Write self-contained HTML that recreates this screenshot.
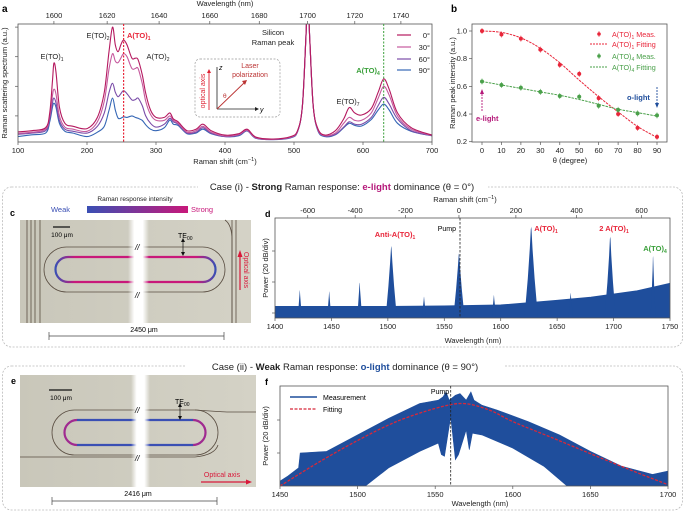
<!DOCTYPE html>
<html><head><meta charset="utf-8"><style>
body{margin:0;background:#fff;}
svg{display:block;font-family:"Liberation Sans",sans-serif;}
.t{font-size:7.5px;fill:#222}
</style></head><body>
<svg id="fig" width="685" height="513" viewBox="0 0 685 513" xmlns="http://www.w3.org/2000/svg">
<defs>
<linearGradient id="cbar" x1="0" x2="1" y1="0" y2="0"><stop offset="0" stop-color="#3a4fb4"/><stop offset="1" stop-color="#c8187a"/></linearGradient>
<linearGradient id="bgimg" x1="0" x2="1"><stop offset="0" stop-color="#c9c7ba"/><stop offset="1" stop-color="#d4d2c6"/></linearGradient>
<linearGradient id="gapg" x1="0" x2="1"><stop offset="0" stop-color="#fff" stop-opacity="0"/><stop offset=".3" stop-color="#fff"/><stop offset=".7" stop-color="#fff"/><stop offset="1" stop-color="#fff" stop-opacity="0"/></linearGradient>
<linearGradient id="endL" x1="0" x2="1"><stop offset="0" stop-color="#3a4fb4"/><stop offset="1" stop-color="#c8187a"/></linearGradient>
<linearGradient id="endR" x1="0" x2="1"><stop offset="0" stop-color="#c8187a"/><stop offset="1" stop-color="#3a4fb4"/></linearGradient>
<clipPath id="clipA"><rect x="18" y="24" width="414" height="118"/></clipPath>
<clipPath id="clipD"><rect x="275" y="218" width="395" height="100"/></clipPath>
<clipPath id="clipF"><rect x="280" y="386" width="388" height="100"/></clipPath>
</defs>

<g>
<text x="2" y="12" font-size="10" font-weight="bold">a</text>
<text x="225" y="6" class="t" text-anchor="middle">Wavelength (nm)</text>
<text x="225" y="164" class="t" text-anchor="middle">Raman shift (cm<tspan dy="-3" font-size="5.5">−1</tspan><tspan dy="3">)</tspan></text>
<text transform="translate(7,83) rotate(-90)" class="t" text-anchor="middle">Raman scattering spectrum (a.u.)</text>
<g id="aTicks"></g>
<g id="aCurves" clip-path="url(#clipA)"></g>
<rect x="18" y="24" width="414" height="118" fill="none" stroke="#555" stroke-width="0.8"/>
<line x1="123.6" y1="24" x2="123.6" y2="142" stroke="#e8263a" stroke-width="1.2" stroke-dasharray="2,1.5"/>
<line x1="383.7" y1="24" x2="383.7" y2="142" stroke="#3aa03a" stroke-width="1" stroke-dasharray="2,1.5"/>
<text x="52" y="59" class="t" text-anchor="middle">E(TO)<tspan font-size="5" dy="2">1</tspan></text>
<text x="98" y="38" class="t" text-anchor="middle">E(TO)<tspan font-size="5" dy="2">2</tspan></text>
<text x="127" y="38" font-size="7.5" font-weight="bold" fill="#e8263a">A(TO)<tspan font-size="5" dy="2">1</tspan></text>
<text x="158" y="59" class="t" text-anchor="middle">A(TO)<tspan font-size="5" dy="2">2</tspan></text>
<text x="273" y="35" class="t" text-anchor="middle">Silicon</text>
<text x="273" y="45" class="t" text-anchor="middle">Raman peak</text>
<text x="368" y="73" font-size="7.5" font-weight="bold" fill="#3aa03a" text-anchor="middle">A(TO)<tspan font-size="5" dy="2">4</tspan></text>
<text x="348" y="104" class="t" text-anchor="middle">E(TO)<tspan font-size="5" dy="2">7</tspan></text>
<g>
<line x1="397" y1="35" x2="411" y2="35" stroke="#b5195f" stroke-width="1.2"/><text x="430" y="38" class="t" text-anchor="end">0°</text>
<line x1="397" y1="47" x2="411" y2="47" stroke="#c65a9e" stroke-width="1.2"/><text x="430" y="50" class="t" text-anchor="end">30°</text>
<line x1="397" y1="59" x2="411" y2="59" stroke="#7a4ca8" stroke-width="1.2"/><text x="430" y="62" class="t" text-anchor="end">60°</text>
<line x1="397" y1="70" x2="411" y2="70" stroke="#3566b5" stroke-width="1.2"/><text x="430" y="73" class="t" text-anchor="end">90°</text>
</g>
<g>
<rect x="195" y="59" width="85" height="58" rx="5" fill="#fff" stroke="#999" stroke-width="0.7" stroke-dasharray="2,1.5"/>
<line x1="209" y1="110" x2="209" y2="72" stroke="#d23" stroke-width="0.9"/><path d="M207,73 L209,69 L211,73Z" fill="#d23"/>
<text transform="translate(205,91) rotate(-90)" font-size="7" fill="#d23" text-anchor="middle">optical axis</text>
<line x1="217" y1="109" x2="217" y2="67" stroke="#222" stroke-width="0.8"/><line x1="217" y1="109" x2="257" y2="109" stroke="#222" stroke-width="0.8"/>
<path d="M255,107 L259,109 L255,111Z" fill="#222"/>
<text x="219" y="70" font-size="7" font-style="italic">z</text><text x="260" y="112" font-size="7" font-style="italic">y</text>
<line x1="217" y1="109" x2="245" y2="82" stroke="#b33" stroke-width="0.9"/><path d="M242,81 L247,80 L245,85Z" fill="#b33"/>
<text x="223" y="98" font-size="6.5" fill="#b33">θ</text>
<text x="250" y="68" font-size="7" fill="#b33" text-anchor="middle">Laser</text>
<text x="250" y="77" font-size="7" fill="#b33" text-anchor="middle">polarization</text>
</g>
</g>

<g>
<text x="451" y="12" font-size="10" font-weight="bold">b</text>
<text transform="translate(455,83) rotate(-90)" class="t" text-anchor="middle">Raman peak intensity (a.u.)</text>
<text x="570" y="163" class="t" text-anchor="middle">θ (degree)</text>
<g id="bTicks"></g>
<g id="bMarks"></g>
<rect x="472" y="24" width="195" height="118" fill="none" stroke="#555" stroke-width="0.8"/>
<g font-size="7.2">
<circle cx="599" cy="34" r="1.8" fill="#e8263a"/><line x1="599" y1="31" x2="599" y2="37" stroke="#e8263a" stroke-width="0.6"/><text x="612" y="37" fill="#e8263a">A(TO)<tspan font-size="5" dy="2">1</tspan><tspan dy="-2"> Meas.</tspan></text>
<line x1="590" y1="44" x2="608" y2="44" stroke="#e8263a" stroke-width="1" stroke-dasharray="2,1"/><text x="612" y="47" fill="#e8263a">A(TO)<tspan font-size="5" dy="2">1</tspan><tspan dy="-2"> Fitting</tspan></text>
<circle cx="599" cy="56" r="1.8" fill="#4aa04a"/><line x1="599" y1="53" x2="599" y2="59" stroke="#4aa04a" stroke-width="0.6"/><text x="612" y="59" fill="#4aa04a">A(TO)<tspan font-size="5" dy="2">4</tspan><tspan dy="-2"> Meas.</tspan></text>
<line x1="590" y1="67" x2="608" y2="67" stroke="#4aa04a" stroke-width="1" stroke-dasharray="2,1"/><text x="612" y="70" fill="#4aa04a">A(TO)<tspan font-size="5" dy="2">4</tspan><tspan dy="-2"> Fitting</tspan></text>
</g>
<g>
<line x1="482" y1="111" x2="482" y2="93" stroke="#b5197a" stroke-width="0.9" stroke-dasharray="2,1"/><path d="M480,94 L482,89 L484,94Z" fill="#b5197a"/>
<text x="476" y="121" font-size="7.5" font-weight="bold" fill="#b5197a">e-light</text></g>
<g>
<line x1="657" y1="87" x2="657" y2="104" stroke="#1f4e9c" stroke-width="0.9" stroke-dasharray="2,1"/><path d="M655,103 L657,108 L659,103Z" fill="#1f4e9c"/>
<text x="627" y="100" font-size="7.5" font-weight="bold" fill="#1f4e9c">o-light</text></g>
</g>

<rect x="2.5" y="187" width="680" height="160" rx="9" fill="none" stroke="#bbb" stroke-width="0.8" stroke-dasharray="2,1.5"/>
<rect x="198" y="180" width="290" height="12" fill="#fff"/>
<text x="342" y="190" font-size="9.5" text-anchor="middle" fill="#222">Case (i) - <tspan font-weight="bold">Strong</tspan> Raman response: <tspan font-weight="bold" fill="#b5197a">e-light</tspan> dominance (θ = 0°)</text>

<g>
<text x="10" y="216" font-size="9" font-weight="bold">c</text>
<text x="135" y="201" font-size="6.5" text-anchor="middle" fill="#222">Raman response intensity</text>
<text x="70" y="212" font-size="7.5" text-anchor="end" fill="#3a4fb4">Weak</text>
<rect x="87" y="206" width="101" height="7" fill="url(#cbar)"/>
<text x="191" y="212" font-size="7.5" fill="#c8187a">Strong</text>
<g>
<rect x="20" y="220" width="231" height="103" fill="url(#bgimg)"/>
<g stroke="#5a4e42" stroke-width="0.8" fill="none">
<line x1="27" y1="220" x2="27" y2="323"/><line x1="31" y1="220" x2="31" y2="323"/><line x1="35" y1="220" x2="35" y2="323"/><line x1="40" y1="220" x2="40" y2="323"/>
<line x1="232" y1="220" x2="232" y2="323"/><line x1="236" y1="220" x2="236" y2="323"/>
<path d="M225,220 Q232,225 232,240 L232,323"/>
<rect x="44" y="247" width="181" height="45" rx="22.5"/>
</g>
<path d="M75,257 L196,257" stroke="#c8187a" stroke-width="2.2"/><path d="M75,282 L196,282" stroke="#c8187a" stroke-width="2.2"/>
<path d="M75,257 L68,257 A12.5,12.5 0 0 0 68,282 L75,282" fill="none" stroke="url(#endL)" stroke-width="2.2"/>
<path d="M196,257 L203,257 A12.5,12.5 0 0 1 203,282 L196,282" fill="none" stroke="url(#endR)" stroke-width="2.2"/>
<rect x="128" y="220" width="21" height="103" fill="url(#gapg)"/>
<text x="135" y="250" font-size="8" font-style="italic">//</text><text x="135" y="298" font-size="8" font-style="italic">//</text>
<line x1="53" y1="227" x2="70" y2="227" stroke="#111" stroke-width="1.2"/>
<text x="62" y="237" font-size="6.5" text-anchor="middle">100 μm</text>
<text x="178" y="238" font-size="7">TE<tspan font-size="5" dy="2">00</tspan></text>
<line x1="183" y1="240" x2="183" y2="254" stroke="#111" stroke-width="0.7"/><path d="M181,242 L183,238 L185,242Z M181,252 L183,256 L185,252Z" fill="#111"/>
<line x1="240" y1="290" x2="240" y2="255" stroke="#d8193a" stroke-width="1.2"/><path d="M237.5,257 L240,250 L242.5,257Z" fill="#d8193a"/>
<text transform="translate(244,270) rotate(90)" font-size="7" fill="#d8193a" text-anchor="middle">Optical axis</text>
</g>
<g>
<line x1="49" y1="336" x2="224" y2="336" stroke="#444" stroke-width="0.7"/><line x1="49" y1="332" x2="49" y2="340" stroke="#444" stroke-width="0.7"/><line x1="224" y1="332" x2="224" y2="340" stroke="#444" stroke-width="0.7"/>
<text x="144" y="332" font-size="7" text-anchor="middle">2450 μm</text></g>
</g>

<g>
<text x="265" y="217" font-size="9" font-weight="bold">d</text>
<text x="465" y="202" class="t" text-anchor="middle">Raman shift (cm<tspan dy="-3" font-size="5.5">−1</tspan><tspan dy="3">)</tspan></text>
<text x="473" y="343" class="t" text-anchor="middle">Wavelength (nm)</text>
<text transform="translate(268,268) rotate(-90)" class="t" text-anchor="middle">Power (20 dB/div)</text>
<g id="dTicks"></g>
<g id="dMarks" clip-path="url(#clipD)"></g>
<rect x="275" y="218" width="395" height="100" fill="none" stroke="#555" stroke-width="0.8"/>
<line x1="460" y1="218" x2="460" y2="318" stroke="#222" stroke-width="0.8" stroke-dasharray="2.5,1.5"/>
<text x="395" y="237" font-size="7.5" font-weight="bold" fill="#e8263a" text-anchor="middle">Anti-A(TO)<tspan font-size="5" dy="2">1</tspan></text>
<text x="456" y="231" font-size="7" text-anchor="end">Pump</text>
<text x="546" y="231" font-size="7.5" font-weight="bold" fill="#e8263a" text-anchor="middle">A(TO)<tspan font-size="5" dy="2">1</tspan></text>
<text x="614" y="231" font-size="7.5" font-weight="bold" fill="#e8263a" text-anchor="middle">2 A(TO)<tspan font-size="5" dy="2">1</tspan></text>
<text x="655" y="251" font-size="7.5" font-weight="bold" fill="#3aa03a" text-anchor="middle">A(TO)<tspan font-size="5" dy="2">4</tspan></text>
</g>

<rect x="2.5" y="366" width="680" height="144" rx="9" fill="none" stroke="#bbb" stroke-width="0.8" stroke-dasharray="2,1.5"/>
<rect x="185" y="359" width="320" height="13" fill="#fff"/>
<text x="345" y="370" font-size="9.5" text-anchor="middle" fill="#222">Case (ii) - <tspan font-weight="bold">Weak</tspan> Raman response: <tspan font-weight="bold" fill="#1f4e9c">o-light</tspan> dominance (θ = 90°)</text>

<g>
<text x="11" y="384" font-size="9" font-weight="bold">e</text>
<g>
<rect x="20" y="375" width="236" height="112" fill="url(#bgimg)"/>
<g stroke="#5a4e42" stroke-width="0.8" fill="none">
<rect x="52" y="410" width="166" height="45" rx="22.5"/>
<path d="M195,410 Q225,412 228,412 L256,412"/>
<path d="M20,457 L195,457 Q215,455 218,445"/>
</g>
<path d="M77,420 L193,420 M77,445 L193,445" stroke="#3a4fb4" stroke-width="2.2"/>
<path d="M77,420 A12.5,12.5 0 0 0 77,445" fill="none" stroke="#a02a90" stroke-width="2.2"/>
<path d="M193,420 A12.5,12.5 0 0 1 193,445" fill="none" stroke="#a02a90" stroke-width="2.2"/>
<rect x="131" y="375" width="19" height="112" fill="url(#gapg)"/>
<text x="135" y="413" font-size="8" font-style="italic">//</text><text x="135" y="461" font-size="8" font-style="italic">//</text>
<line x1="49" y1="390" x2="72" y2="390" stroke="#111" stroke-width="1.2"/>
<text x="61" y="400" font-size="6.5" text-anchor="middle">100 μm</text>
<text x="175" y="404" font-size="7">TE<tspan font-size="5" dy="2">00</tspan></text>
<line x1="180" y1="405" x2="180" y2="418" stroke="#111" stroke-width="0.7"/><path d="M178,407 L180,403 L182,407Z M178,416 L180,420 L182,416Z" fill="#111"/>
<text x="222" y="477" font-size="7" fill="#d8193a" text-anchor="middle">Optical axis</text>
<line x1="201" y1="482" x2="248" y2="482" stroke="#d8193a" stroke-width="1.2"/><path d="M246,479.5 L252,482 L246,484.5Z" fill="#d8193a"/>
</g>
<g>
<line x1="52" y1="501" x2="217" y2="501" stroke="#444" stroke-width="0.7"/><line x1="52" y1="497" x2="52" y2="505" stroke="#444" stroke-width="0.7"/><line x1="217" y1="497" x2="217" y2="505" stroke="#444" stroke-width="0.7"/>
<text x="138" y="496" font-size="7" text-anchor="middle">2416 μm</text></g>
</g>

<g>
<text x="265" y="385" font-size="9" font-weight="bold">f</text>
<text x="480" y="506" class="t" text-anchor="middle">Wavelength (nm)</text>
<text transform="translate(268,436) rotate(-90)" class="t" text-anchor="middle">Power (20 dB/div)</text>
<g id="fTicks"></g>
<g id="fMarks" clip-path="url(#clipF)"></g>
<rect x="280" y="386" width="388" height="100" fill="none" stroke="#555" stroke-width="0.8"/>
<line x1="450.7" y1="386" x2="450.7" y2="486" stroke="#222" stroke-width="0.8" stroke-dasharray="2.5,1.5"/>
<text x="440" y="394" font-size="7" text-anchor="middle">Pump</text>
<g>
<line x1="290" y1="397" x2="317" y2="397" stroke="#1f4e9c" stroke-width="1.6"/><text x="323" y="400" font-size="7">Measurement</text>
<line x1="290" y1="409" x2="317" y2="409" stroke="#d8283a" stroke-width="1.3" stroke-dasharray="3,1.5"/><text x="323" y="412" font-size="7">Fitting</text>
</g>
</g>
</svg>
<script>
const aShift=[100,120,140,146,150,152,155,160,168,180,200,215,225,232,237,241,245,249,253,258,265,270,274,280,285,292,300,312,320,325,332,345,358,368,380,400,420,432,445,470,495,505,512,517,520,523,528,535,545,560,572,580,588,598,612,622,630,638,650,670,700];
const aV0=[0.46,0.5,0.6,1.1,2.2,2.78,2.5,1.3,0.75,0.65,0.57,0.95,1.8,3.2,4.0,3.4,3.17,3.4,3.56,3.4,2.95,2.95,2.9,2.4,1.77,1.2,0.95,0.95,1.1,0.9,0.8,0.5,0.55,0.72,0.5,0.35,0.4,0.55,0.28,0.22,0.3,0.5,1.3,3.5,5,3.5,1.3,0.55,0.35,0.5,0.9,1.28,1.1,1.03,1.25,1.8,2.25,1.9,1.1,0.6,0.35];
const aV30=[0.41,0.45,0.55,1.0,1.7,1.9,1.75,1.0,0.62,0.55,0.48,0.8,1.5,2.6,3.1,2.85,2.8,2.95,3.1,3.0,2.6,2.6,2.6,2.1,1.5,1.05,0.85,0.85,1.0,0.85,0.75,0.45,0.5,0.65,0.45,0.32,0.37,0.52,0.26,0.21,0.28,0.48,1.3,3.5,5,3.5,1.3,0.52,0.33,0.42,0.75,0.95,0.85,0.85,1.1,1.6,2.0,1.7,1.0,0.55,0.34];
const aV60=[0.38,0.42,0.5,0.9,1.45,1.6,1.45,0.85,0.55,0.48,0.42,0.65,1.1,1.8,2.1,1.8,1.65,1.75,1.85,1.75,1.54,1.55,1.6,1.35,1.0,0.75,0.62,0.72,0.92,0.8,0.72,0.42,0.45,0.6,0.42,0.3,0.35,0.5,0.25,0.2,0.27,0.47,1.3,3.5,5,3.5,1.3,0.5,0.32,0.38,0.62,0.8,0.72,0.72,0.95,1.35,1.63,1.4,0.9,0.5,0.33];
const aV90=[0.3,0.36,0.42,0.8,1.3,1.43,1.3,0.75,0.48,0.42,0.3,0.45,0.65,1.2,1.6,1.2,0.93,0.92,0.97,0.95,1.0,0.95,0.92,0.85,0.7,0.55,0.5,0.6,0.86,0.72,0.68,0.4,0.42,0.55,0.4,0.3,0.33,0.49,0.24,0.2,0.26,0.46,1.3,3.5,5,3.5,1.3,0.48,0.3,0.36,0.6,0.75,0.68,0.66,0.88,1.2,1.4,1.2,0.75,0.48,0.33];
const aXTicks=[100,200,300,400,500,600,700];
const aWlTicks=[1600,1620,1640,1660,1680,1700,1720,1740];
const aYTicks=[1,2,3,4];
const bTheta=[0,10,20,30,40,50,60,70,80,90];
const bRedMeas=[1.0,0.975,0.945,0.865,0.755,0.69,0.515,0.4,0.3,0.235];
const bRedFit=[1.0,0.99,0.95,0.875,0.77,0.645,0.525,0.415,0.31,0.23];
const bGreenMeas=[0.635,0.61,0.59,0.56,0.53,0.525,0.46,0.43,0.405,0.39];
const bGreenFit=[0.635,0.61,0.585,0.56,0.535,0.505,0.47,0.435,0.41,0.385];
const bXTicks=[0,10,20,30,40,50,60,70,80,90];
const bYTicks=[0.2,0.4,0.6,0.8,1.0];
const dFloorWl=[1400,1450,1500,1550,1600,1650,1680,1700,1720,1750];
const dFloorLv=[0.2,0.2,0.2,0.22,0.25,0.4,0.5,0.6,0.7,0.95];
const dPeakWl=[1422,1448,1475,1503,1532,1563,1594,1627,1662,1697,1735];
const dPeakLv=[0.74,0.7,0.98,2.16,0.53,1.93,0.58,2.78,0.65,2.46,1.84];
const dPeakW=[1.8,1.8,2.2,5,1.8,5,1.8,6,2,5,2.2];
const dXTicks=[1400,1450,1500,1550,1600,1650,1700,1750];
const dShiftTicks=[-600,-400,-200,0,200,400,600];
const fWlTop=[1450,1455,1462,1463,1480,1500,1520,1540,1552,1555,1557,1559,1563,1566,1570,1573,1575,1580,1590,1610,1630,1650,1670,1690,1700];
const fLvTop=[0.15,0.3,0.55,1.0,1.05,1.55,2.05,2.5,2.6,2.7,2.85,2.6,2.75,2.8,2.6,2.85,2.6,2.45,2.3,1.95,1.55,1.05,0.6,0.35,0.45];
const fWlBot=[1450,1505,1520,1540,1552,1554,1556,1560,1563,1565,1570,1572,1574,1580,1600,1620,1635,1700];
const fLvBot=[0,0,0.55,1.05,1.3,0.95,0.9,2.1,0.8,0.95,1.7,1.1,1.6,1.55,1.15,0.6,0,0];
const fFitWl=[1450,1475,1500,1525,1550,1568,1585,1600,1625,1650,1675,1700];
const fFitLv=[0,0.72,1.38,1.95,2.35,2.5,2.3,1.95,1.47,0.98,0.5,0.04];
const fXTicks=[1450,1500,1550,1600,1650,1700];
const fYTicks=[1,2];

const NS='http://www.w3.org/2000/svg';
function mk(parent,tag,attrs){const e=document.createElementNS(NS,tag);for(const k in attrs)e.setAttribute(k,attrs[k]);parent.appendChild(e);return e;}
function smooth(pts){let d='M'+pts[0][0].toFixed(1)+','+pts[0][1].toFixed(1);for(let i=0;i<pts.length-1;i++){const p0=pts[Math.max(0,i-1)],p1=pts[i],p2=pts[i+1],p3=pts[Math.min(pts.length-1,i+2)];const c1=[p1[0]+(p2[0]-p0[0])/6,p1[1]+(p2[1]-p0[1])/6],c2=[p2[0]-(p3[0]-p1[0])/6,p2[1]-(p3[1]-p1[1])/6];d+=' C'+c1[0].toFixed(1)+','+c1[1].toFixed(1)+' '+c2[0].toFixed(1)+','+c2[1].toFixed(1)+' '+p2[0].toFixed(1)+','+p2[1].toFixed(1);}return d;}

const xa=s=>18+(s-100)/600*414, ya=v=>145.5-v*29.6;
const wlToShift=w=>1e7/1562-1e7/w;
const aT=document.getElementById('aTicks');
aXTicks.forEach(s=>{mk(aT,'line',{x1:xa(s),y1:142,x2:xa(s),y2:145,stroke:'#555','stroke-width':0.7});const t=mk(aT,'text',{x:xa(s),y:153,class:'t','text-anchor':'middle'});t.textContent=s;

});
aWlTicks.forEach(w=>{const x=xa(wlToShift(w));mk(aT,'line',{x1:x,y1:24,x2:x,y2:21,stroke:'#555','stroke-width':0.7});const t=mk(aT,'text',{x:x,y:18,class:'t','text-anchor':'middle'});t.textContent=w;

});
aYTicks.forEach(v=>{mk(aT,'line',{x1:15,y1:ya(v),x2:18,y2:ya(v),stroke:'#555','stroke-width':0.7});});
const aC=document.getElementById('aCurves');
[[aV90,'#3566b5','90'],[aV60,'#7a4ca8','60'],[aV30,'#c65a9e','30'],[aV0,'#b5195f','0']].forEach(([arr,c,n])=>{
const p=mk(aC,'path',{d:smooth(aShift.map((s,i)=>[xa(s),ya(arr[i])])),fill:'none',stroke:c,'stroke-width':1.1});

});

const xb=t=>482+t/90*175, yb=v=>141.7-(v-0.2)/0.8*110.7;
const bT=document.getElementById('bTicks');
bXTicks.forEach(t=>{mk(bT,'line',{x1:xb(t),y1:142,x2:xb(t),y2:145,stroke:'#555','stroke-width':0.7});const e=mk(bT,'text',{x:xb(t),y:153,class:'t','text-anchor':'middle'});e.textContent=t;

});
bYTicks.forEach(v=>{mk(bT,'line',{x1:469,y1:yb(v),x2:472,y2:yb(v),stroke:'#555','stroke-width':0.7});const e=mk(bT,'text',{x:467,y:yb(v)+2.5,class:'t','text-anchor':'end'});e.textContent=v.toFixed(1);

});
const bM=document.getElementById('bMarks');
[[bRedFit,'#e8263a','red-fit'],[bGreenFit,'#4aa04a','green-fit']].forEach(([arr,c,n])=>{
const p=mk(bM,'path',{d:smooth(bTheta.map((t,i)=>[xb(t),yb(arr[i])])),fill:'none',stroke:c,'stroke-width':1,'stroke-dasharray':'2.5,1'});

});
[[bRedMeas,'#e8263a','red-meas'],[bGreenMeas,'#4aa04a','green-meas']].forEach(([arr,c,n])=>{bTheta.forEach((t,i)=>{
mk(bM,'line',{x1:xb(t),y1:yb(arr[i])-3,x2:xb(t),y2:yb(arr[i])+3,stroke:c,'stroke-width':0.6});
const m=mk(bM,'circle',{cx:xb(t),cy:yb(arr[i]),r:2,fill:c});

});});

const xd=w=>275+(w-1400)/350*395, yd=v=>313-v*31;
const dT=document.getElementById('dTicks');
dXTicks.forEach(w=>{mk(dT,'line',{x1:xd(w),y1:318,x2:xd(w),y2:321,stroke:'#555','stroke-width':0.7});const e=mk(dT,'text',{x:xd(w),y:329,class:'t','text-anchor':'middle'});e.textContent=w;

});
dShiftTicks.forEach(s=>{const w=1e7/(1e7/1563-s);mk(dT,'line',{x1:xd(w),y1:218,x2:xd(w),y2:215,stroke:'#555','stroke-width':0.7});const e=mk(dT,'text',{x:xd(w),y:213,class:'t','text-anchor':'middle'});e.textContent=s;

});
[0,1,2].forEach(v=>mk(dT,'line',{x1:272,y1:yd(v),x2:275,y2:yd(v),stroke:'#555','stroke-width':0.7}));
const dM=document.getElementById('dMarks');
let fd='M'+xd(1400)+',318 '+dFloorWl.map((w,i)=>'L'+xd(w).toFixed(1)+','+yd(dFloorLv[i]).toFixed(1)).join(' ')+' L'+xd(1750)+',318Z';
const fl=mk(dM,'path',{d:fd,fill:'#1f4e9c',stroke:'#1f4e9c','stroke-width':1.5});


dPeakWl.forEach((w,i)=>{const h=dPeakW[i],L=dPeakLv[i];
const pts=[[w-h,0],[w-0.5*h,0.4*L],[w-0.2*h,0.75*L],[w-0.05*h,0.97*L],[w,L],[w+0.05*h,0.97*L],[w+0.2*h,0.75*L],[w+0.5*h,0.4*L],[w+h,0]];
const p=mk(dM,'path',{d:'M'+pts.map(q=>xd(q[0]).toFixed(1)+','+(q[1]===0?318:yd(q[1])).toFixed(1)).join(' L')+'Z',fill:'#1f4e9c'});

});

const xf=w=>280+(w-1450)/250*388, yf=v=>486-v*33;
const fT=document.getElementById('fTicks');
fXTicks.forEach(w=>{mk(fT,'line',{x1:xf(w),y1:486,x2:xf(w),y2:489,stroke:'#555','stroke-width':0.7});const e=mk(fT,'text',{x:xf(w),y:497,class:'t','text-anchor':'middle'});e.textContent=w;

});
fYTicks.forEach(v=>mk(fT,'line',{x1:277,y1:yf(v),x2:280,y2:yf(v),stroke:'#555','stroke-width':0.7}));
const fM=document.getElementById('fMarks');
const fTopPts=fWlTop.map((w,i)=>xf(w).toFixed(1)+','+yf(fLvTop[i]).toFixed(1));
const fBotPts=fWlBot.map((w,i)=>xf(w).toFixed(1)+','+yf(fLvBot[i]).toFixed(1)).reverse();
const meas=mk(fM,'path',{d:'M'+fTopPts.join(' L')+' L'+fBotPts.join(' L')+'Z',fill:'#1f4e9c',stroke:'#1f4e9c','stroke-width':0.6});


const fit=mk(fM,'path',{d:smooth(fFitWl.map((w,i)=>[xf(w),yf(fFitLv[i])])),fill:'none',stroke:'#d8283a','stroke-width':1.3,'stroke-dasharray':'3,1.5'});


</script>
</body></html>
